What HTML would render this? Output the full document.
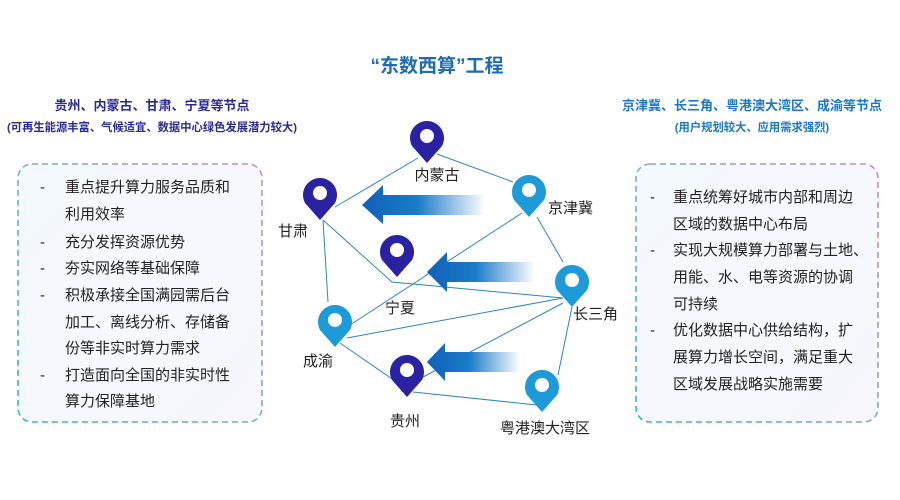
<!DOCTYPE html>
<html><head><meta charset="utf-8"><style>
html,body{margin:0;padding:0;background:#fff;width:900px;height:500px;overflow:hidden}
svg text{font-family:"Liberation Sans","Noto Sans CJK SC",sans-serif}
</style></head><body>
<svg width="900" height="500" viewBox="0 0 900 500" xmlns="http://www.w3.org/2000/svg">
<defs>
<linearGradient id="bd" x1="0" y1="1" x2="1" y2="0">
<stop offset="0" stop-color="#2bb5d8"/><stop offset="0.5" stop-color="#7fa6d8"/><stop offset="1" stop-color="#c58ad6"/>
</linearGradient>
<linearGradient id="ar" x1="0" y1="0" x2="1" y2="0">
<stop offset="0" stop-color="#1160b8"/><stop offset="0.45" stop-color="#1a7cc8"/><stop offset="1" stop-color="#1a7cc8" stop-opacity="0"/>
</linearGradient>
<linearGradient id="bg" x1="0" y1="0" x2="1" y2="1">
<stop offset="0" stop-color="#f4f9fd"/><stop offset="1" stop-color="#f7f7fd"/>
</linearGradient>
</defs>
<text x="437" y="72" text-anchor="middle" font-size="19" font-weight="bold" fill="#1d6bb2">“东数西算”工程</text>
<text x="152" y="110" text-anchor="middle" font-size="13" font-weight="bold" fill="#2b2a92">贵州、内蒙古、甘肃、宁夏等节点</text>
<text x="152" y="131" text-anchor="middle" font-size="11.3" font-weight="bold" fill="#2b2a92">(可再生能源丰富、气候适宜、数据中心绿色发展潜力较大)</text>
<text x="752" y="110" text-anchor="middle" font-size="13" font-weight="bold" fill="#1a78c6">京津冀、长三角、粤港澳大湾区、成渝等节点</text>
<text x="752" y="131" text-anchor="middle" font-size="11.3" font-weight="bold" fill="#1a78c6">(用户规划较大、应用需求强烈)</text>

<rect x="18" y="164" width="244" height="258" rx="14" fill="url(#bg)" stroke="url(#bd)" stroke-width="1.6" stroke-dasharray="6 4"/>
<rect x="636" y="164" width="242" height="258" rx="14" fill="url(#bg)" stroke="url(#bd)" stroke-width="1.6" stroke-dasharray="6 4"/>

<g font-size="15" fill="#222">
<text x="40" y="192">-</text><text x="65" y="192">重点提升算力服务品质和</text>
<text x="65" y="219">利用效率</text>
<text x="40" y="247">-</text><text x="65" y="247">充分发挥资源优势</text>
<text x="40" y="273">-</text><text x="65" y="273">夯实网络等基础保障</text>
<text x="40" y="300">-</text><text x="65" y="300">积极承接全国满园需后台</text>
<text x="65" y="327">加工、离线分析、存储备</text>
<text x="65" y="353">份等非实时算力需求</text>
<text x="40" y="380">-</text><text x="65" y="380">打造面向全国的非实时性</text>
<text x="65" y="406">算力保障基地</text>

<text x="650" y="202">-</text><text x="673" y="202">重点统筹好城市内部和周边</text>
<text x="673" y="229">区域的数据中心布局</text>
<text x="650" y="255">-</text><text x="673" y="255">实现大规模算力部署与土地、</text>
<text x="673" y="282">用能、水、电等资源的协调</text>
<text x="673" y="309">可持续</text>
<text x="650" y="335">-</text><text x="673" y="335">优化数据中心供给结构，扩</text>
<text x="673" y="362">展算力增长空间，满足重大</text>
<text x="673" y="389">区域发展战略实施需要</text>
</g>

<g stroke="#2e86b8" stroke-width="1" fill="none">
<line x1="335" y1="207" x2="418" y2="158"/>
<line x1="437" y1="154" x2="513" y2="182"/>
<line x1="323" y1="220" x2="328" y2="302"/>
<polyline points="323,220 392,282 563,298"/>
<line x1="522" y1="213" x2="350" y2="325"/>
<line x1="537" y1="217" x2="563" y2="262"/>
<line x1="347" y1="338" x2="563" y2="298"/>
<line x1="340" y1="343" x2="398" y2="383"/>
<line x1="423" y1="377" x2="563" y2="303"/>
<line x1="413" y1="392" x2="537" y2="405"/>
<line x1="572" y1="307" x2="558" y2="375"/>
</g>

<polygon points="362,205 383,185 383,195 485,195 485,215 383,215 383,224" fill="url(#ar)"/>
<polygon points="427,272 447,252 447,262 535,262 535,282 447,282 447,292" fill="url(#ar)"/>
<polygon points="427,362 445,343 445,352 520,352 520,372 445,372 445,381" fill="url(#ar)"/>

<g>
<path d="M427,163 L412,146 A17,17 0 1,1 442,146 Z" fill="#2a22a0"/><circle cx="427" cy="136" r="7" fill="#fff"/>
<path d="M320,220 L305,203 A17,17 0 1,1 335,203 Z" fill="#2a22a0"/><circle cx="320" cy="193" r="7" fill="#fff"/>
<path d="M397,277 L382,260 A17,17 0 1,1 412,260 Z" fill="#2a22a0"/><circle cx="397" cy="250" r="7" fill="#fff"/>
<path d="M407,397 L392,380 A17,17 0 1,1 422,380 Z" fill="#2a22a0"/><circle cx="407" cy="370" r="7" fill="#fff"/>
<path d="M529,217 L514,200 A17,17 0 1,1 544,200 Z" fill="#1e9ad8"/><circle cx="529" cy="190" r="7" fill="#fff"/>
<path d="M572,307 L557,290 A17,17 0 1,1 587,290 Z" fill="#1e9ad8"/><circle cx="572" cy="280" r="7" fill="#fff"/>
<path d="M335,347 L320,330 A17,17 0 1,1 350,330 Z" fill="#1e9ad8"/><circle cx="335" cy="320" r="7" fill="#fff"/>
<path d="M542,412 L527,395 A17,17 0 1,1 557,395 Z" fill="#1e9ad8"/><circle cx="542" cy="385" r="7" fill="#fff"/>
</g>

<g font-size="15" fill="#222">
<text x="437" y="180" text-anchor="middle">内蒙古</text>
<text x="548" y="213">京津冀</text>
<text x="278" y="236">甘肃</text>
<text x="385" y="313">宁夏</text>
<text x="573" y="319">长三角</text>
<text x="303" y="366">成渝</text>
<text x="390" y="426">贵州</text>
<text x="500" y="433">粤港澳大湾区</text>
</g>
</svg>
</body></html>
